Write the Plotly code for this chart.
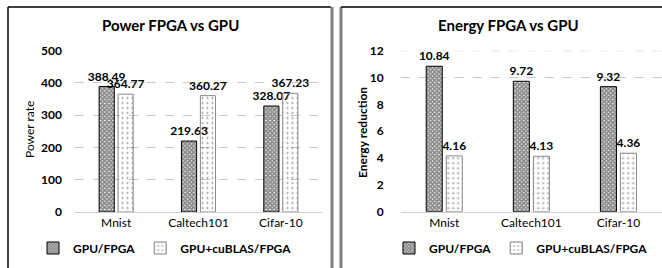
import plotly.graph_objects as go

categories = ["Mnist", "Caltech101", "Cifar-10"]
power_gpu_fpga = [388.49, 219.63, 328.07]
power_cublas_fpga = [364.77, 360.27, 367.23]
energy_gpu_fpga = [10.84, 9.72, 9.32]
energy_cublas_fpga = [4.16, 4.13, 4.36]
power_ticks = [0, 100, 200, 300, 400, 500]
energy_ticks = [0, 2, 4, 6, 8, 10, 12]
series_names = ["GPU/FPGA", "GPU+cuBLAS/FPGA"]

W, H = 662, 268
FONT = "Lato"

def px_x(v):
    return v / W

def px_y(v):
    return 1 - v / H

dark = dict(color="white", line=dict(color="black", width=1),
            pattern=dict(shape="x", fgcolor="#1a1a1a", bgcolor="#fff", size=3, solidity=0.85))
light = dict(color="rgba(255,255,255,0)", line=dict(color="#888", width=1),
             pattern=dict(shape=".", fgcolor="#333", bgcolor="rgba(255,255,255,0)", size=5, solidity=0.15))

fig = go.Figure()
lbl_font = dict(family=FONT, size=12, color="black", weight="bold")

def add(x, y, name, marker, xa, ya, legend, fmt):
    fig.add_trace(go.Bar(
        x=x, y=y, name=name, marker=marker, xaxis=xa, yaxis=ya, legend=legend,
        text=[fmt.format(v) for v in y], textposition="outside",
        textfont=lbl_font, cliponaxis=False, constraintext="none",
        hoverinfo="skip",
    ))

add(categories, power_gpu_fpga, series_names[0], dark, "x", "y", "legend", "{:.2f}")
add(categories, power_cublas_fpga, series_names[1], light, "x", "y", "legend", "{:.2f}")
add(categories, energy_gpu_fpga, series_names[0], dark, "x2", "y2", "legend2", "{:.2f}")
add(categories, energy_cublas_fpga, series_names[1], light, "x2", "y2", "legend2", "{:.2f}")

tick_font = dict(family=FONT, size=12, color="black", weight="bold")
cat_font = dict(family=FONT, size=12, color="black")
leg_font = dict(family=FONT, size=12, color="black", weight="bold")

fig.update_layout(
    width=W, height=H, margin=dict(l=0, r=0, t=0, b=0, autoexpand=False),
    paper_bgcolor="white", plot_bgcolor="white",
    barmode="group", bargap=0.54, bargroupgap=0.2,
    showlegend=True,
    xaxis=dict(domain=[px_x(75), px_x(322)], tickfont=cat_font, showgrid=False,
               showline=True, linecolor="#d0d0d0", linewidth=1, ticks=""),
    yaxis=dict(domain=[px_y(212), px_y(50.5)], range=[0, 500], tickvals=power_ticks,
               tickfont=tick_font, showgrid=True, gridcolor="#c8c8c8", griddash="dash",
               gridwidth=1, zeroline=False, ticklabelstandoff=12, anchor="x"),
    xaxis2=dict(domain=[px_x(400.7), 1.0], tickfont=cat_font, showgrid=False,
                showline=True, linecolor="#d0d0d0", linewidth=1, ticks="", anchor="y2"),
    yaxis2=dict(domain=[px_y(211.7), px_y(50.7)], range=[0, 12], tickvals=energy_ticks,
                tickfont=tick_font, showgrid=False, zeroline=False,
                ticklabelstandoff=16, anchor="x2"),
    legend=dict(orientation="h", x=px_x(165), y=px_y(248), xanchor="center", yanchor="middle",
                font=leg_font, itemwidth=30, bgcolor="rgba(0,0,0,0)", traceorder="normal"),
    legend2=dict(orientation="h", x=px_x(521), y=px_y(248), xanchor="center", yanchor="middle",
                 font=leg_font, itemwidth=30, bgcolor="rgba(0,0,0,0)", traceorder="normal"),
)

# dashed gridlines for energy chart (only upper ones visible in reference)
for v in energy_ticks[-2:]:
    fig.add_shape(type="line", xref="x2 domain", yref="y2", x0=0, x1=1, y0=v, y1=v,
                  line=dict(color="#c8c8c8", width=1, dash="dash"), layer="below")

# panel borders
shapes = [
    dict(x0=px_x(8), x1=px_x(8), y0=px_y(7), y1=0, line=dict(color="black", width=1.5)),
    dict(x0=px_x(8), x1=px_x(331), y0=px_y(7), y1=px_y(7), line=dict(color="black", width=1.5)),
    dict(x0=px_x(332), x1=px_x(332), y0=px_y(7), y1=0, line=dict(color="#808080", width=3)),
    dict(x0=px_x(341), x1=px_x(341), y0=px_y(7), y1=0, line=dict(color="#808080", width=3)),
    dict(x0=px_x(341), x1=1, y0=px_y(7), y1=px_y(7), line=dict(color="black", width=1.5)),
]
for s in shapes:
    fig.add_shape(type="line", xref="paper", yref="paper", **s)

def ann(text, x, y, font, angle=0):
    fig.add_annotation(text=text, x=px_x(x), y=px_y(y), xref="paper", yref="paper",
                       xanchor="center", yanchor="middle", showarrow=False,
                       textangle=angle, font=font)

title_font = dict(family=FONT, size=15, color="black", weight="bold")
ann("Power FPGA vs GPU", 170, 25, title_font)
ann("Energy FPGA vs GPU", 508, 25, title_font)
ann("Power rate", 29, 130, dict(family=FONT, size=12, color="black"), -90)
ann("Energy reduction", 363, 133, dict(family=FONT, size=12, color="black", weight="bold"), -90)

fig.write_html(
    "out.html",
    config={"displayModeBar": False},
    post_script="document.body.style.margin='0';document.body.style.overflow='hidden';",
)
